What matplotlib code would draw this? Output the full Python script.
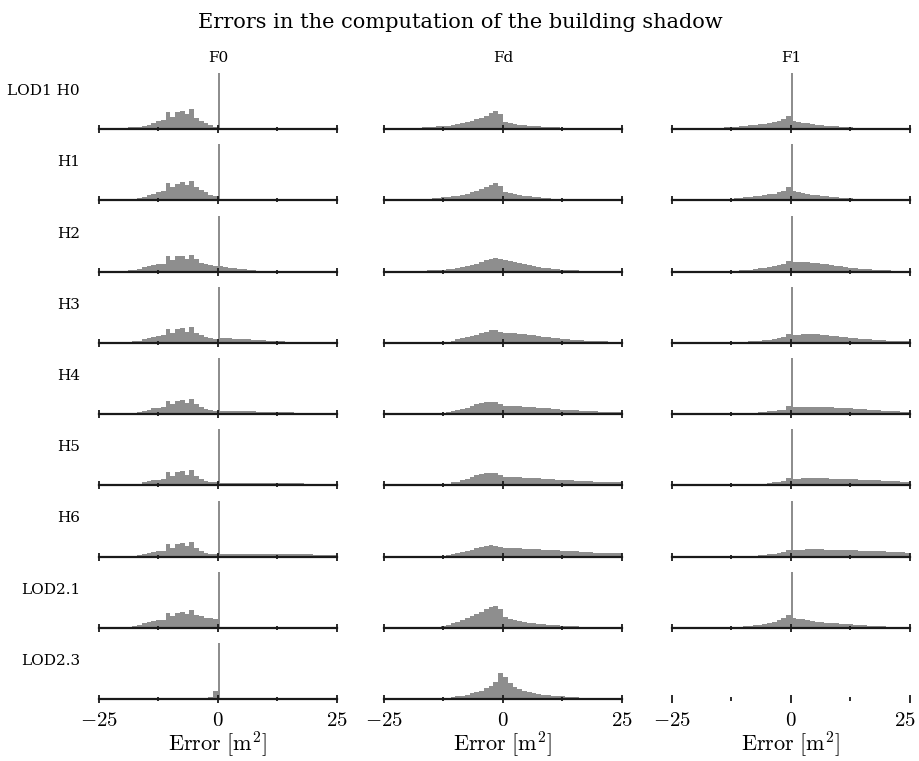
import matplotlib
matplotlib.use("Agg")
import matplotlib.pyplot as plt
import matplotlib.transforms as mtransforms
import numpy as np

plt.rcParams['mathtext.fontset'] = 'cm'

# ---------------- data (percent of panel height, bins of width 1 from -25 to 25) ----
title = "Errors in the computation of the building shadow"
col_names = ["F0", "Fd", "F1"]
row_names = ["LOD1 H0", "H1", "H2", "H3", "H4", "H5", "H6", "LOD2.1", "LOD2.3"]
bin_edges = list(range(-25, 26))
tick_major = [-25, 0, 25]
tick_minor = [-12.5, 12.5]
tick_labels = ["$-25$", "$0$", "$25$"]
xlabel = r"$\mathrm{Error\ [m^2]}$"

F0 = [
    [1, 1, 1, 1.5, 2, 2, 3, 3, 4, 5, 8, 11, 14, 16, 30, 22, 30, 33, 26, 35, 20, 15, 11, 7, 4,
     0, 0, 0, 0, 0, 0, 0, 0, 0, 0, 0, 0, 0, 0, 0, 0, 0, 0, 0, 0, 0, 0, 0, 0, 0],
    [0.5, 1, 1, 1, 1.5, 2, 2, 3, 4, 6, 9, 12, 15, 17, 30, 24, 29, 33, 27, 35, 24, 18, 14, 10, 7,
     0, 0, 0, 0, 0, 0, 0, 0, 0, 0, 0, 0, 0, 0, 0, 0, 0, 0, 0, 0, 0, 0, 0, 0, 0],
    [0.5, 0.5, 1, 1, 1, 1.5, 2, 3, 5, 8, 10, 12, 13, 14, 27, 20, 28, 28, 22, 30, 22, 16, 14, 12, 10,
     9, 8, 7, 6, 5, 4, 3, 2, 1, 0.5, 0, 0, 0, 0, 0, 0, 0, 0, 0, 0, 0, 0, 0, 0, 0],
    [0, 0, 0, 0, 0.5, 1, 1.5, 2.5, 4, 7, 9, 11, 12, 13, 25, 18, 25, 26, 20, 28, 18, 13, 10, 8, 7,
     9, 8.5, 8, 7.5, 7, 6.5, 6, 5.5, 5, 4.5, 4, 3.5, 3, 2.5, 2, 1.5, 1, 0.5, 0, 0, 0, 0, 0, 0, 0],
    [0, 0, 0, 0, 0, 0.5, 1, 2, 4, 6, 8, 10, 11, 12, 24, 17, 24, 25, 19, 27, 17, 12, 9, 7, 6,
     6, 5, 5, 5, 5, 4.5, 4.5, 4.5, 4, 4, 4, 3.5, 3.5, 3.5, 3, 3, 2.5, 2.5, 2.5, 2, 2, 2, 1.5, 1.5, 1],
    [0, 0, 0, 0, 0, 0, 0, 0.5, 2, 5, 7, 9, 10, 11, 24, 17, 24, 25, 19, 27, 16, 11, 8, 5, 5,
     4, 4, 4, 4, 4, 4, 4, 4, 4, 4, 4, 4, 3.5, 3.5, 3.5, 3.5, 3.5, 3.5, 3, 3, 3, 3, 3, 2.5, 2.5],
    [0, 0, 0, 0, 0, 0, 0, 0.5, 2, 4, 6, 8, 9, 10, 22, 16, 23, 24, 18, 26, 15, 10, 7, 4, 4,
     4, 4.5, 4.5, 5, 5, 5, 5, 5, 5, 5, 4.5, 4.5, 4.5, 4.5, 4, 4, 4, 4, 4, 4, 3.5, 3.5, 3, 3, 3],
    [0, 0, 0, 0, 0.5, 1, 2, 3, 5, 8, 10, 12, 13, 14, 27, 21, 27, 28, 25, 31, 22, 21, 18, 17, 16,
     0, 0, 0, 0, 0, 0, 0, 0, 0, 0, 0, 0, 0, 0, 0, 0, 0, 0, 0, 0, 0, 0, 0, 0, 0],
    [0, 0, 0, 0, 0, 0, 0, 0, 0, 0, 0, 0, 0, 0, 0, 0, 0, 0, 0, 0, 0, 0, 1, 3, 15,
     0, 0, 0, 0, 0, 0, 0, 0, 0, 0, 0, 0, 0, 0, 0, 0, 0, 0, 0, 0, 0, 0, 0, 0, 0],
]

Fd = [
    [1, 1, 1, 1.5, 1.5, 2, 2, 2.5, 3, 3.5, 4, 4.5, 5, 6, 7, 9, 11, 13, 15, 17, 19, 23, 28, 32, 27,
     12, 11, 9, 8, 7, 6, 5, 4.5, 4, 3.5, 3, 3, 2.5, 2, 2, 2, 1.5, 1, 1, 1, 1, 1, 1, 1, 1],
    [0.5, 0.5, 1, 1, 1, 1.5, 1.5, 2, 2.5, 3, 3.5, 4, 5, 6, 7, 8, 10, 12, 14, 17, 20, 24, 28, 31, 26,
     15, 13, 11, 9, 8, 7, 6, 5, 4, 3.5, 3, 2.5, 2, 2, 1.5, 1.5, 1, 1, 1, 1, 1, 1, 1, 1, 1],
    [0.5, 0.5, 0.5, 0.5, 0.5, 1, 1, 1, 1.5, 2, 2, 2.5, 3, 4, 5, 6, 7.5, 9, 11, 14, 17, 20, 22, 24, 22,
     20, 18.5, 17, 15, 13, 11, 10, 8.5, 7, 6, 5, 4, 3.5, 3, 2.5, 2, 1.5, 1.5, 1, 1, 1, 1, 1, 1, 1],
    [0, 0, 0, 0, 0, 0, 0, 0, 0, 0.5, 0.5, 1, 1.5, 2, 4, 6, 8, 10, 12, 14.5, 17, 20, 22, 23, 20,
     18, 18, 17.5, 16.5, 15.5, 14, 13, 12, 11, 10, 9, 8, 7, 6.5, 5.5, 5, 4.5, 4, 3.5, 3, 3, 2.5, 2, 2, 1.5],
    [0, 0, 0, 0, 0, 0, 0, 0, 0, 0.5, 0.5, 1, 1.5, 3, 5, 7, 9, 11, 14, 17, 20, 21, 21.5, 21, 18,
     15, 14.5, 14, 13.5, 13, 12.5, 12, 11, 10.5, 10, 9.5, 9, 8, 7.5, 7, 6.5, 6, 5.5, 5, 4.5, 4, 4, 3.5, 3, 3],
    [0, 0, 0, 0, 0, 0, 0, 0, 0, 0.3, 0.5, 0.8, 1.5, 3, 5, 6.5, 8.5, 11, 14, 17.5, 20, 22, 22, 21, 18,
     15, 15, 14.5, 14, 13.5, 13, 13, 12.5, 12, 11, 10.5, 10, 9.5, 9, 8.5, 8, 7.5, 7, 7, 6.5, 6, 6, 5.5, 5, 5],
    [0, 0, 0, 0, 0, 0, 0, 0, 0, 0.3, 0.5, 0.8, 1.2, 2.5, 4, 5.5, 7.5, 10, 12, 15, 17.5, 19, 20, 19.5, 17,
     15, 15, 14.5, 14.5, 14, 13.5, 13, 13, 12.5, 12, 11.5, 11, 10.5, 10, 9.5, 9, 8.5, 8, 7.5, 7, 7, 6.5, 6, 6, 5.5],
    [0, 0, 0, 0, 0, 0, 0, 0, 0, 0.5, 1, 1.5, 3, 5, 8, 11, 14, 17, 21, 25, 29, 33, 37, 39, 33,
     19, 16, 14, 12, 10.5, 9, 8, 7, 6, 5.5, 5, 4.5, 4, 3, 2.5, 2.5, 2, 1.5, 1.5, 1, 1, 1, 0.8, 0.5, 0.5],
    [0, 0, 0, 0, 0, 0, 0, 0, 0, 0.3, 0.5, 1, 1.5, 2.5, 3.5, 4.5, 6, 8, 10, 12, 15, 19, 24, 31, 47,
     39, 29, 22, 17, 14, 12, 10.5, 9, 8, 7, 6, 5, 4.5, 4, 3.5, 3, 2.5, 2.5, 2, 2, 1.5, 1.5, 1, 1, 1],
]

F1 = [
    [0.5, 0.5, 0.5, 1, 1, 1, 1.5, 1.5, 2, 2, 2.5, 3, 3.5, 4, 4.5, 5.5, 6.5, 7.5, 8.5, 9.5, 11, 13, 15, 18, 24,
     15, 13, 11, 10, 8.5, 7.5, 6.5, 5.5, 5, 4.5, 4, 3.5, 3, 2.5, 2, 2, 1.5, 1.5, 1, 1, 1, 1, 1, 1, 1],
    [0.3, 0.3, 0.5, 0.5, 0.5, 1, 1, 1, 1.5, 1.5, 2, 2.5, 3, 3.5, 4.5, 5, 6, 7, 8, 9, 10.5, 12, 14, 17, 23,
     16, 14, 12.5, 11, 10, 9, 8, 7, 6, 5, 4.5, 4, 3.5, 3, 2.5, 2, 2, 1.5, 1.5, 1, 1, 1, 1, 1, 1],
    [0, 0, 0, 0, 0, 0, 0, 0, 0, 0.3, 0.5, 0.8, 1, 1.5, 2, 3, 3.5, 4.5, 5.5, 6.5, 7.5, 9, 11, 13, 19,
     17, 17, 17, 16.5, 16, 15, 14, 13, 11.5, 10, 9, 7.5, 6.5, 5.5, 5, 4.5, 4, 3.5, 3, 2.5, 2, 1.5, 1.5, 1, 0.7],
    [0, 0, 0, 0, 0, 0, 0, 0, 0, 0, 0, 0.3, 0.5, 1, 1.5, 2, 2.5, 3, 3.5, 4.5, 5.5, 6.5, 8, 10, 16,
     13, 14, 15, 15.5, 15.5, 15, 14.5, 13.5, 12.5, 12, 11, 10, 9, 8, 7.5, 6.5, 6, 5.5, 5, 4.5, 4, 3.5, 3.5, 3, 3],
    [0, 0, 0, 0, 0, 0, 0, 0, 0, 0, 0, 0, 0.3, 0.5, 1, 1.5, 2, 2.5, 3, 3.5, 4.5, 5.5, 6.5, 8, 14,
     12, 12.5, 13, 13, 13, 13, 13, 12.5, 12, 11.5, 11, 10.5, 10, 9.5, 9, 8.5, 8, 7.5, 7, 6, 5.5, 5, 4.5, 4, 3.5],
    [0, 0, 0, 0, 0, 0, 0, 0, 0, 0, 0, 0, 0, 0.3, 0.5, 1, 1.5, 2, 2.5, 3, 4, 5, 6.5, 8, 13,
     12, 12, 12.5, 13, 13, 13, 12.5, 12.5, 12, 12, 11.5, 11, 11, 10.5, 10, 9.5, 9, 9, 8.5, 8, 8, 7.5, 7, 6.5, 6],
    [0, 0, 0, 0, 0, 0, 0, 0, 0, 0, 0, 0, 0, 0, 0.3, 0.5, 1, 1.5, 2, 3, 4, 5, 6.5, 8, 11,
     11, 12, 12.5, 13, 13, 13, 13, 12.5, 12.5, 12, 12, 11.5, 11, 11, 10.5, 10, 10, 9.5, 9, 9, 8.5, 8, 8, 7.5, 7],
    [0, 0, 0, 0, 0, 0, 0, 0, 0, 0.3, 0.5, 0.8, 1, 1.5, 2, 2.5, 3.5, 4.5, 5.5, 7, 9, 11, 14, 17, 23,
     18, 16, 15, 13.5, 12, 11, 10, 9, 8.5, 8, 7, 6.5, 6, 5.5, 5, 4.5, 4, 3.5, 3, 2.5, 2, 2, 1.5, 1.5, 1],
    [0] * 50,
]

# spike at zero (percent of panel height) per column and row
spike_F0 = [100, 100, 100, 100, 100, 100, 100, 100, 100]
spike_Fd = [0, 0, 0, 0, 0, 0, 0, 0, 0]
spike_F1 = [100, 100, 100, 100, 100, 100, 100, 100, 0]
spike_x = 0.2
spike_w = 0.4

columns = [F0, Fd, F1]
spikes = [spike_F0, spike_Fd, spike_F1]

# ---------------- layout ----------------
W, H = 920, 761
fig = plt.figure(figsize=(W / 100, H / 100), dpi=100)

col_left = [99, 384, 672]
col_width = 238
base0 = 129
row_step = 71.25
panel_h = 56
fill = '#8e8e8e'

for r in range(len(row_names)):
    baseline = base0 + r * row_step
    for c in range(3):
        ax = fig.add_axes([col_left[c] / W, 1 - baseline / H, col_width / W, panel_h / H])
        ax.stairs(columns[c][r], bin_edges, fill=True, color=fill, linewidth=0)
        if spikes[c][r] > 0:
            ax.bar([spike_x], [spikes[c][r]], width=spike_w, color=fill, linewidth=0)
        ax.set_xlim(-25, 25)
        ax.set_ylim(0, 100)
        for s in ['top', 'right', 'left']:
            ax.spines[s].set_visible(False)
        ax.spines['bottom'].set_linewidth(1.6)
        ax.spines['bottom'].set_color('#1a1a1a')
        ax.spines['bottom'].set_zorder(5)
        if c == 2 and r == len(row_names) - 1:
            ax.spines['bottom'].set_visible(False)
        ax.set_yticks([])
        ax.set_xticks(tick_major)
        ax.set_xticks(tick_minor, minor=True)
        ax.tick_params(axis='x', which='major', direction='inout', length=6, width=1.3,
                       color='#1a1a1a', pad=5)
        ax.tick_params(axis='x', which='minor', direction='inout', length=3.5, width=1.3,
                       color='#1a1a1a')
        if r == len(row_names) - 1:
            ax.set_xticklabels(tick_labels, fontsize=15)
            if c == 2:
                lab = ax.get_xticklabels()[-1]
                lab.set_transform(lab.get_transform() +
                                  mtransforms.ScaledTranslation(-5 / 100, 0, fig.dpi_scale_trans))
        else:
            ax.set_xticklabels([])
        ax.patch.set_alpha(0)

    fig.text(80 / W, 1 - (baseline - 38) / H, row_names[r], ha='right', va='center',
             fontsize=11, family='DejaVu Serif')

for c in range(3):
    cx = (col_left[c] + col_width / 2) / W
    fig.text(cx, 1 - 58 / H, col_names[c], ha='center', va='center', fontsize=11,
             family='DejaVu Serif')
    fig.text(cx, 1 - 744 / H, xlabel, ha='center', va='center', fontsize=16)

fig.text(460 / W, 1 - 23 / H, title, ha='center', va='center', fontsize=15,
         family='DejaVu Serif')

fig.savefig('out.png', dpi=100)
